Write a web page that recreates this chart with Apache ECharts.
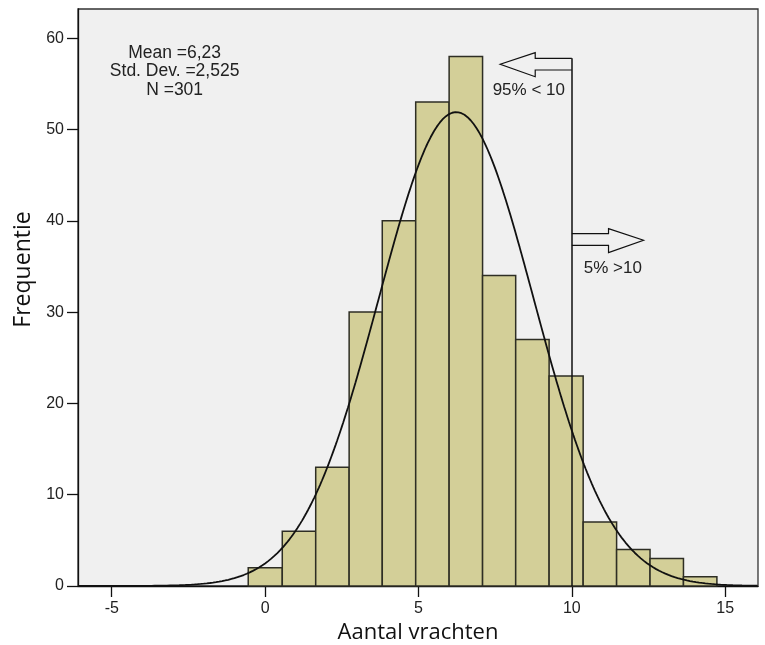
<!DOCTYPE html>
<html>
<head>
<meta charset="utf-8">
<script src="https://cdn.jsdelivr.net/npm/echarts@6/dist/echarts.min.js"></script>
<style>
html,body{margin:0;padding:0;background:#fff;}
#c{width:765px;height:645px;}
</style>
</head>
<body>
<div id="c"></div>
<script>
// Histogram bin edges and frequencies
var binEdges = [-0.55, 0.56, 1.65, 2.74, 3.82, 4.91, 6.0, 7.09, 8.17, 9.26, 10.37, 11.46, 12.55, 13.64, 14.73];
var frequencies = [2, 6, 13, 30, 40, 53, 58, 34, 27, 23, 7, 4, 3, 1];
// Displayed statistics
var statMean = 6.23;
var statSD = 2.525;
var statN = 301;
var statLines = ['Mean =6,23', 'Std. Dev. =2,525', 'N =301'];
// Axis ticks
var xTicks = [-5, 0, 5, 10, 15];
var yTicks = [0, 10, 20, 30, 40, 50, 60];
// Cut-off annotation
var cutoffValue = 10;
var cutoffTop = 57.8;
var cutoffLowLabel = '95% < 10';
var cutoffHighLabel = '5% >10';

var binWidth = (binEdges[binEdges.length - 1] - binEdges[0]) / frequencies.length;

var histData = frequencies.map(function (f, i) { return [binEdges[i], binEdges[i + 1], f]; });

// Fitted normal curve defined by the displayed mean, sd and N
var curve = [];
for (var x = -6.1; x <= 16.1; x += 0.05) {
  var z = (x - statMean) / statSD;
  curve.push([x, statN * binWidth * Math.exp(-0.5 * z * z) / (statSD * Math.sqrt(2 * Math.PI))]);
}

var chart = echarts.init(document.getElementById('c'));
var FONT = '"Liberation Sans", Arial, sans-serif';
var TITLE_FONT = '"Open Sans", sans-serif';

chart.setOption({
  animation: false,
  backgroundColor: '#ffffff',
  grid: {
    left: 78, right: 7, top: 9, bottom: 59,
    outerBoundsMode: 'none', containLabel: false,
    show: true, backgroundColor: '#f0f0f0', borderColor: '#333', borderWidth: 1.3
  },
  xAxis: {
    type: 'value', min: -6.1, max: 16.07,
    name: 'Aantal vrachten', nameLocation: 'middle', nameGap: 35,
    nameTextStyle: { fontFamily: TITLE_FONT, fontSize: 22, color: '#111' },
    axisLine: { show: true, onZero: false, lineStyle: { color: '#111', width: 1.3 } },
    axisTick: { show: true, length: 11, customValues: xTicks, lineStyle: { color: '#111', width: 1.3 } },
    axisLabel: { customValues: xTicks, fontFamily: FONT, fontSize: 16, color: '#222', margin: 15 },
    splitLine: { show: false }
  },
  yAxis: {
    type: 'value', min: 0, max: 63.2,
    name: 'Frequentie', nameLocation: 'middle', nameGap: 42, nameRotate: 90,
    nameTextStyle: { fontFamily: TITLE_FONT, fontSize: 23, color: '#111', padding: [0, 0, 0, 56] },
    axisLine: { show: true, onZero: false, lineStyle: { color: '#111', width: 1.3 } },
    axisTick: { show: true, length: 11, customValues: yTicks, lineStyle: { color: '#111', width: 1.3 } },
    axisLabel: { customValues: yTicks, fontFamily: FONT, fontSize: 16, color: '#222', margin: 14 },
    splitLine: { show: false }
  },
  series: [
    {
      type: 'custom',
      data: histData,
      encode: { x: [0, 1], y: 2 },
      renderItem: function (params, api) {
        var p0 = api.coord([api.value(0), 0]);
        var p1 = api.coord([api.value(1), api.value(2)]);
        return {
          type: 'rect',
          shape: { x: p0[0], y: p1[1], width: p1[0] - p0[0], height: p0[1] - p1[1] },
          style: { fill: '#d3cf98', stroke: '#2e2e24', lineWidth: 1.5 }
        };
      },
      z: 2
    },
    {
      type: 'line',
      data: curve,
      showSymbol: false,
      smooth: false,
      lineStyle: { color: '#111', width: 1.8 },
      z: 3,
      markLine: {
        silent: true,
        symbol: 'none',
        label: { show: false },
        lineStyle: { color: '#111', width: 1.5, type: 'solid' },
        data: [[{ coord: [cutoffValue, 0] }, { coord: [cutoffValue, cutoffTop] }]]
      }
    }
  ]
});

// Annotations positioned relative to the cut-off in data coordinates
var pTop = chart.convertToPixel({ gridIndex: 0 }, [cutoffValue, cutoffTop]);
var pRight = chart.convertToPixel({ gridIndex: 0 }, [cutoffValue, 38.6]);
var statPos = chart.convertToPixel({ gridIndex: 0 }, [-2.95, 59.4]);
var x10 = pTop[0], yt = pTop[1], yr = pRight[1];
var arrowStyle = { fill: 'none', stroke: '#111', lineWidth: 1.2 };

chart.setOption({
  graphic: [
    {
      type: 'polyline', silent: true, z: 10,
      shape: { points: [[x10, yt], [x10 - 36.6, yt], [x10 - 36.6, yt - 5.6], [x10 - 71.6, yt + 6], [x10 - 36.6, yt + 18.4], [x10 - 36.6, yt + 11.7], [x10, yt + 11.7]] },
      style: arrowStyle
    },
    {
      type: 'polyline', silent: true, z: 10,
      shape: { points: [[x10, yr], [x10 + 36.7, yr], [x10 + 36.7, yr - 5], [x10 + 71.7, yr + 6.7], [x10 + 36.7, yr + 19], [x10 + 36.7, yr + 11.7], [x10, yr + 11.7]] },
      style: arrowStyle
    },
    {
      type: 'text', silent: true, z: 10, x: x10 - 43, y: yt + 32,
      style: { text: cutoffLowLabel, fontFamily: FONT, fontSize: 17, fill: '#222', align: 'center', verticalAlign: 'middle' }
    },
    {
      type: 'text', silent: true, z: 10, x: x10 + 41, y: yr + 35,
      style: { text: cutoffHighLabel, fontFamily: FONT, fontSize: 17, fill: '#222', align: 'center', verticalAlign: 'middle' }
    },
    {
      type: 'text', silent: true, z: 10, x: statPos[0], y: statPos[1],
      style: { text: statLines.join('\n'), fontFamily: FONT, fontSize: 17.5, lineHeight: 18.5, fill: '#222', align: 'center', verticalAlign: 'top' }
    }
  ]
});
</script>
</body>
</html>
